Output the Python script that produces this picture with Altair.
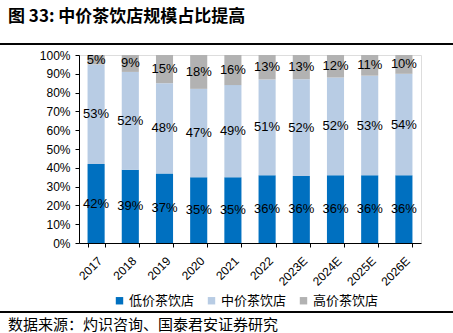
import altair as alt
import pandas as pd

years = ["2017", "2018", "2019", "2020", "2021", "2022", "2023E", "2024E", "2025E", "2026E"]
low = [42, 39, 37, 35, 35, 36, 36, 36, 36, 36]
mid = [53, 52, 48, 47, 49, 51, 52, 52, 53, 54]
high = [5, 9, 15, 18, 16, 13, 13, 12, 11, 10]
series = ["低价茶饮店", "中价茶饮店", "高价茶饮店"]
colors = ["#0070C0", "#B8CCE4", "#B2B2B2"]
title_text = "图 33:   中价茶饮店规模占比提高"
source_text = "数据来源：灼识咨询、国泰君安证券研究"
y_ticks = [0.0, 0.1, 0.2, 0.3, 0.4, 0.5, 0.6, 0.7, 0.8, 0.9, 1.0]

rows = []
for i, yr in enumerate(years):
    for k, (name, vals) in enumerate(zip(series, [low, mid, high])):
        rows.append({"year": yr, "series": name, "order": k, "value": vals[i]})
df = pd.DataFrame(rows)

W, H = 342, 188
LEFT, TOP = 79, 55

base = alt.Chart(df).transform_stack(
    stack="value", groupby=["year"], as_=["y0", "y1"], offset="normalize",
    sort=[alt.SortField("order", order="ascending")]
).transform_calculate(
    midv="(datum.y0 + datum.y1) / 2", label="datum.value + '%'"
)

x_axis = alt.Axis(labelAngle=-45, labelAlign="right", labelBaseline="top",
                  labelFont="Liberation Sans", labelFontSize=12, labelColor="black",
                  domainColor="black", tickColor="black", tickSize=4, tickBand="extent",
                  labelPadding=8)
y_axis = alt.Axis(format=".0%", values=y_ticks, grid=False, labelOverlap=False,
                  labelFont="Liberation Sans", labelFontSize=12, labelColor="black",
                  domainColor="black", tickColor="black", tickSize=4, labelPadding=5)
x_scale = alt.Scale(paddingInner=0.5, paddingOuter=0.25)
y_scale = alt.Scale(domain=[0, 1])

bars = base.mark_bar().encode(
    x=alt.X("year:N", sort=years, title=None, scale=x_scale, axis=x_axis),
    y=alt.Y("y1:Q", title=None, scale=y_scale, axis=y_axis),
    y2="y0:Q",
    color=alt.Color("series:N", sort=series,
                    scale=alt.Scale(domain=series, range=colors),
                    legend=alt.Legend(title=None, orient="none", direction="horizontal",
                                      legendX=34, legendY=239, symbolType="square",
                                      symbolSize=55, symbolStrokeWidth=0,
                                      labelFont="Noto Sans CJK SC", labelFontSize=13,
                                      labelColor="black", columnPadding=10, labelOffset=3)),
)

texts = base.mark_text(font="Liberation Sans", fontSize=13, color="black").encode(
    x=alt.X("year:N", sort=years, title=None, scale=x_scale, axis=x_axis),
    y=alt.Y("midv:Q", title=None, scale=y_scale, axis=y_axis),
    text="label:N",
)

title_df = pd.DataFrame({"t": [title_text]})
source_df = pd.DataFrame({"t": [source_text]})

title = alt.Chart(title_df).mark_text(
    font="Noto Sans CJK SC", fontSize=17, fontWeight="bold", align="left", baseline="middle", color="black"
).encode(x=alt.value(8 - LEFT), y=alt.value(17 - TOP), text="t:N")

source = alt.Chart(source_df).mark_text(
    font="Noto Sans CJK SC", fontSize=15, align="left", baseline="middle", color="black"
).encode(x=alt.value(8 - LEFT), y=alt.value(325 - TOP), text="t:N")

# separator lines, drawn in a few equivalent ways
one = pd.DataFrame({"a": [0]})
r1 = alt.Chart(one).mark_rule(color="black", strokeWidth=1.3).encode(
    x=alt.value(-LEFT), x2=alt.value(453 - LEFT), y=alt.value(44 - TOP))
r2 = alt.Chart(one).mark_rule(color="black", strokeWidth=1.3).encode(
    x=alt.value(-LEFT), x2=alt.value(453 - LEFT), y=alt.value(312 - TOP))
r3 = alt.Chart(title_df).mark_rule(color="black", strokeWidth=1.3).encode(
    x=alt.value(-LEFT), x2=alt.value(453 - LEFT), y=alt.value(44 - TOP))
r4 = alt.Chart(source_df).mark_rule(color="black", strokeWidth=1.3).encode(
    x=alt.value(-LEFT), x2=alt.value(453 - LEFT), y=alt.value(312 - TOP))
r5 = alt.Chart(df).transform_aggregate(n="count()").mark_rule(color="black", strokeWidth=1.3).encode(
    x=alt.value(-LEFT), x2=alt.value(453 - LEFT), y=alt.value(44 - TOP))
r6 = alt.Chart(df).transform_aggregate(n="count()").mark_rule(color="black", strokeWidth=1.3).encode(
    x=alt.value(-LEFT), x2=alt.value(453 - LEFT), y=alt.value(312 - TOP))

chart = alt.layer(bars, texts, title, source, r1, r2, r3, r4, r5, r6).properties(
    width=W, height=H,
    autosize=alt.AutoSizeParams(type="none"),
    padding={"left": LEFT, "top": TOP, "right": 453 - LEFT - W, "bottom": 333 - TOP - H},
).configure_view(stroke=None).configure(background="white")

chart.save("out.html", embed_options={"renderer": "svg", "actions": False})
